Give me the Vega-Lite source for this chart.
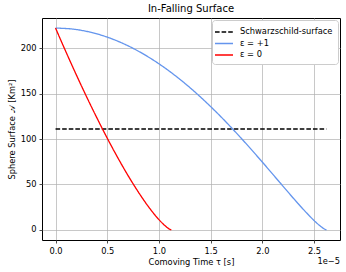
{
  "$schema": "https://vega.github.io/schema/vega-lite/v6.json",
  "width": 298,
  "height": 222,
  "autosize": {"type": "none"},
  "padding": {"left": 42, "top": 18, "right": 6, "bottom": 32},
  "background": "white",
  "title": {"text": "In-Falling Surface", "fontSize": 10, "fontWeight": "normal", "font": "DejaVu Sans", "color": "black", "offset": 4},
  "config": {
    "font": "DejaVu Sans",
    "view": {"stroke": "black", "strokeWidth": 1},
    "axis": {
      "domain": false,
      "grid": true,
      "gridColor": "#b0b0b0",
      "gridWidth": 0.7,
      "tickColor": "black",
      "tickSize": 3,
      "tickWidth": 0.7,
      "labelFontSize": 8.3,
      "labelColor": "black",
      "labelPadding": 3,
      "titleFontSize": 8.3,
      "titleFontWeight": "normal",
      "titleColor": "black"
    },
    "legend": {
      "orient": "top-right",
      "offset": 2,
      "fillColor": "white",
      "strokeColor": "#cccccc",
      "cornerRadius": 3,
      "padding": 5,
      "labelFontSize": 8.3,
      "labelColor": "black",
      "symbolType": "M-1.5,0H1.5",
      "symbolSize": 144,
      "symbolStrokeWidth": 1.3,
      "rowPadding": 0.5,
      "labelOffset": 9
    }
  },
  "layer": [
    {
      "data": {
        "values": [
          {"series": "Schwarzschild-surface", "tau": 0, "A": 111},
          {"series": "Schwarzschild-surface", "tau": 2.62e-5, "A": 111},
          {"series": "ε = +1", "tau": 0, "A": 222},
          {"series": "ε = +1", "tau": 1.667e-6, "A": 220.9},
          {"series": "ε = +1", "tau": 3.325e-6, "A": 217.6},
          {"series": "ε = +1", "tau": 6.584e-6, "A": 204.8},
          {"series": "ε = +1", "tau": 9.713e-6, "A": 184.9},
          {"series": "ε = +1", "tau": 1.2654e-5, "A": 159.8},
          {"series": "ε = +1", "tau": 1.5357e-5, "A": 131.7},
          {"series": "ε = +1", "tau": 1.7781e-5, "A": 103.0},
          {"series": "ε = +1", "tau": 1.9894e-5, "A": 75.97},
          {"series": "ε = +1", "tau": 2.168e-5, "A": 52.31},
          {"series": "ε = +1", "tau": 2.3133e-5, "A": 33.15},
          {"series": "ε = +1", "tau": 2.4263e-5, "A": 18.92},
          {"series": "ε = +1", "tau": 2.509e-5, "A": 9.4},
          {"series": "ε = +1", "tau": 2.5648e-5, "A": 3.83},
          {"series": "ε = +1", "tau": 2.5982e-5, "A": 1.14},
          {"series": "ε = +1", "tau": 2.6145e-5, "A": 0.19},
          {"series": "ε = +1", "tau": 2.62e-5, "A": 0},
          {"series": "ε = 0", "tau": 0, "A": 222},
          {"series": "ε = 0", "tau": 1e-6, "A": 196.0},
          {"series": "ε = 0", "tau": 2e-6, "A": 170.8},
          {"series": "ε = 0", "tau": 3e-6, "A": 146.5},
          {"series": "ε = 0", "tau": 4e-6, "A": 123.2},
          {"series": "ε = 0", "tau": 5e-6, "A": 100.9},
          {"series": "ε = 0", "tau": 6e-6, "A": 79.8},
          {"series": "ε = 0", "tau": 7e-6, "A": 60.0},
          {"series": "ε = 0", "tau": 8e-6, "A": 41.8},
          {"series": "ε = 0", "tau": 9e-6, "A": 25.3},
          {"series": "ε = 0", "tau": 1e-5, "A": 11.3},
          {"series": "ε = 0", "tau": 1.05e-5, "A": 5.5},
          {"series": "ε = 0", "tau": 1.1e-5, "A": 1.03},
          {"series": "ε = 0", "tau": 1.12e-5, "A": 0}
        ]
      },
      "mark": {"type": "line", "strokeWidth": 1.3, "interpolate": "monotone"},
      "encoding": {
        "x": {
          "field": "tau", "type": "quantitative",
          "scale": {"domain": [-1.31e-6, 2.751e-5], "nice": false, "zero": false},
          "axis": {"values": [0, 5e-6, 1e-5, 1.5e-5, 2e-5, 2.5e-5], "labelExpr": "format(datum.value*1e5, '.1f')", "title": "Comoving Time τ [s]", "titlePadding": 3}
        },
        "y": {
          "field": "A", "type": "quantitative",
          "scale": {"domain": [-11.1, 233.1], "nice": false, "zero": false},
          "axis": {"values": [0, 50, 100, 150, 200], "title": "Sphere Surface 𝒜 [Km²]", "titlePadding": 4}
        },
        "color": {
          "field": "series", "type": "nominal",
          "scale": {"domain": ["Schwarzschild-surface", "ε = +1", "ε = 0"], "range": ["black", "#6495ED", "red"]},
          "legend": {"title": null}
        },
        "strokeDash": {
          "field": "series", "type": "nominal",
          "scale": {"domain": ["Schwarzschild-surface", "ε = +1", "ε = 0"], "range": [[4.6, 2], [1, 0], [1, 0]]},
          "legend": {"title": null}
        }
      }
    },
    {
      "data": {"values": [{"label": "1e−5"}]},
      "mark": {"type": "text", "align": "right", "baseline": "top", "dy": 17, "fontSize": 8.3, "color": "black"},
      "encoding": {
        "x": {"datum": 2.751e-5, "type": "quantitative"},
        "y": {"datum": -11.1, "type": "quantitative"},
        "text": {"field": "label"}
      }
    }
  ]
}
